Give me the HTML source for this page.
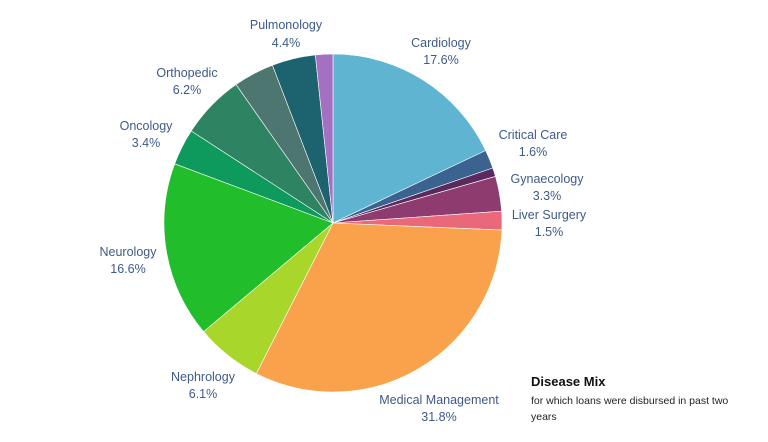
<!DOCTYPE html><html><head><style>body{margin:0;background:#fff;width:768px;height:437px;overflow:hidden}</style></head><body>
<svg width="768" height="437" xmlns="http://www.w3.org/2000/svg" font-family="Liberation Sans, sans-serif">
<g stroke="#fff" stroke-width="0.6">
<path d="M333,223 L333,54 A169,169 0 0 1 485.66,150.52 Z" fill="#5fb4d2"/>
<path d="M333,223 L485.66,150.52 A169,169 0 0 1 492.79,167.98 Z" fill="#3a6390"/>
<path d="M333,223 L492.79,167.98 A169,169 0 0 1 495.46,176.42 Z" fill="#5a2a5e"/>
<path d="M333,223 L495.46,176.42 A169,169 0 0 1 501.59,211.21 Z" fill="#8e3b70"/>
<path d="M333,223 L501.59,211.21 A169,169 0 0 1 501.85,230.08 Z" fill="#e9687a"/>
<path d="M333,223 L501.85,230.08 A169,169 0 0 1 256.27,373.58 Z" fill="#f9a24b"/>
<path d="M333,223 L256.27,373.58 A169,169 0 0 1 203.55,331.63 Z" fill="#a8d62a"/>
<path d="M333,223 L203.55,331.63 A169,169 0 0 1 174.70,163.82 Z" fill="#22bd2a"/>
<path d="M333,223 L174.70,163.82 A169,169 0 0 1 191.26,130.96 Z" fill="#0e9a5c"/>
<path d="M333,223 L191.26,130.96 A169,169 0 0 1 236.06,84.56 Z" fill="#2e8462"/>
<path d="M333,223 L236.06,84.56 A169,169 0 0 1 272.43,65.22 Z" fill="#4d7670"/>
<path d="M333,223 L272.43,65.22 A169,169 0 0 1 315.34,54.93 Z" fill="#1c636f"/>
<path d="M333,223 L315.34,54.93 A169,169 0 0 1 333,54 Z" fill="#a370c2"/>
</g>
<g fill="#3d5a8a" font-size="12.5" text-anchor="middle">
<text x="286" y="29">Pulmonology</text><text x="286" y="47">4.4%</text>
<text x="441" y="47">Cardiology</text><text x="441" y="64">17.6%</text>
<text x="187" y="77">Orthopedic</text><text x="187" y="94">6.2%</text>
<text x="146" y="130">Oncology</text><text x="146" y="147">3.4%</text>
<text x="533" y="139">Critical Care</text><text x="533" y="156">1.6%</text>
<text x="547" y="183">Gynaecology</text><text x="547" y="200">3.3%</text>
<text x="549" y="219">Liver Surgery</text><text x="549" y="236">1.5%</text>
<text x="128" y="256">Neurology</text><text x="128" y="273">16.6%</text>
<text x="203" y="381">Nephrology</text><text x="203" y="398">6.1%</text>
<text x="439" y="404">Medical Management</text><text x="439" y="421">31.8%</text>
</g>
<text x="531" y="386" font-size="13" font-weight="bold" fill="#111">Disease Mix</text>
<text x="531" y="404" font-size="10.5" fill="#222">for which loans were disbursed in past two</text>
<text x="531" y="420" font-size="10.5" fill="#222">years</text>
</svg></body></html>
